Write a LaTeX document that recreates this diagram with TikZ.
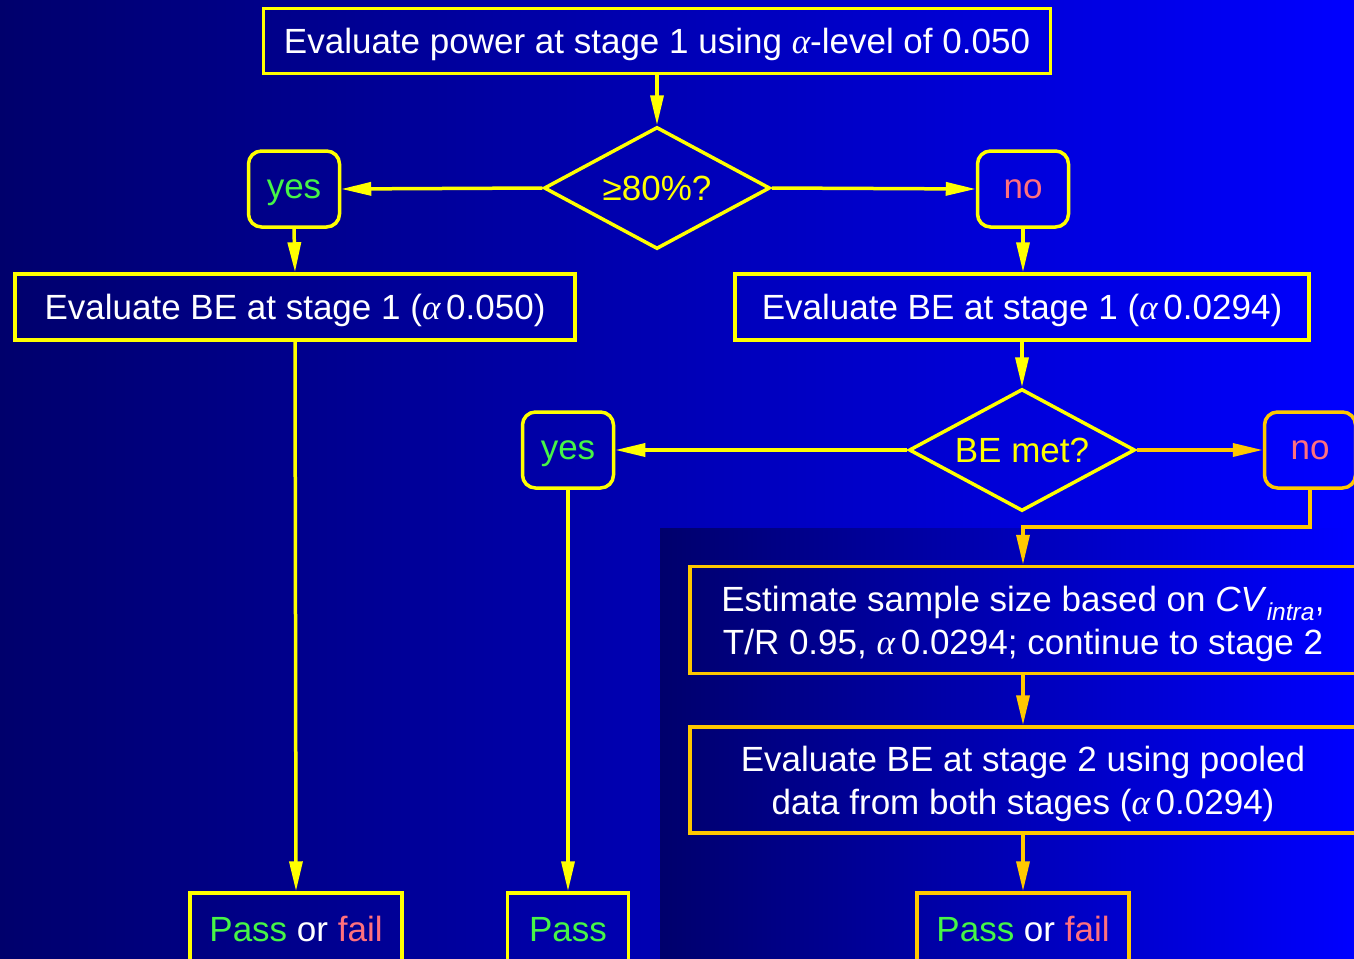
\documentclass[tikz,border=0pt]{standalone}
\usepackage{fontspec}
\setmainfont{Liberation Sans}
\newfontfamily\greekserif{Liberation Serif}
\usetikzlibrary{shapes.geometric,arrows.meta}

\definecolor{bgdark}{RGB}{0,0,108}
\definecolor{bgbright}{RGB}{0,0,255}
\definecolor{flowyellow}{RGB}{255,255,0}
\definecolor{flowgold}{RGB}{255,200,0}
\definecolor{passgreen}{RGB}{70,245,70}
\definecolor{failpink}{RGB}{255,112,125}

\newcommand{\alsym}{{\greekserif\itshape α}}
\newcommand{\al}{\alsym\,}

\begin{document}
\begin{tikzpicture}[
        x=1pt, y=-1pt,
        >={Triangle[length=30pt,width=13pt]},
        font=\fontsize{35}{43}\selectfont,
        box/.style={draw=flowyellow, line width=3.5pt, text=white, inner sep=0pt,
            align=center, text depth=0pt},
        goldbox/.style={box, draw=flowgold},
        answer/.style={box, rounded corners=13pt, minimum width=91pt, minimum height=76pt},
        decision/.style={diamond, draw=flowyellow, line width=3.5pt, text=flowyellow,
            inner sep=0pt, aspect=1.85, minimum width=226pt, minimum height=122pt,
            text depth=0pt},
        arr/.style={->, flowyellow, line width=3.5pt},
        goldarr/.style={arr, flowgold}
    ]
    % background
    \clip (0,0) rectangle (1354,958);
    \shade[left color=bgdark, right color=bgbright] (0,0) rectangle (1354,958);
    \shade[left color=bgdark, right color=bgbright] (660,528) rectangle (1354,958);

    % stage 1
    \node[box, minimum width=787pt, minimum height=65pt] (power) at (657,41)
        {Evaluate power at stage 1 using \alsym-level of 0.050};
    \node[decision] (powerok) at (657,188) {≥80\%?};
    \node[answer] (yesA) at (294,189) {\textcolor{passgreen}{yes}};
    \node[answer] (noA) at (1023,189) {\textcolor{failpink}{no}};
    \node[box, minimum width=560pt, minimum height=66pt] (beA) at (295,307)
        {Evaluate BE at stage 1 (\al 0.050)};
    \node[box, minimum width=574pt, minimum height=66pt] (beB) at (1022,307)
        {Evaluate BE at stage 1 (\al 0.0294)};
    \node[decision] (bemet) at (1022,450) {BE met?};
    \node[answer] (yesB) at (568,450) {\textcolor{passgreen}{yes}};
    \node[answer, draw=flowgold] (noB) at (1310,450) {\textcolor{failpink}{no}};

    % stage 2
    \node[goldbox, minimum width=666pt, minimum height=107pt] (estimate) at (1023,620)
        {Estimate sample size based on \textit{CV}\textsubscript{\textit{intra}},\\
         T/R 0.95, \al 0.0294; continue to stage 2};
    \node[goldbox, minimum width=666pt, minimum height=106pt] (pooled) at (1023,780)
        {Evaluate BE at stage 2 using pooled\\
         data from both stages (\al 0.0294)};

    % outcomes
    \node[box, minimum width=212pt, minimum height=72pt] (resA) at (296,929)
        {\textcolor{passgreen}{Pass} or \textcolor{failpink}{fail}};
    \node[box, minimum width=121pt, minimum height=72pt] (resB) at (568,929)
        {\textcolor{passgreen}{Pass}};
    \node[goldbox, minimum width=212pt, minimum height=72pt] (resC) at (1023,929)
        {\textcolor{passgreen}{Pass} or \textcolor{failpink}{fail}};

    % connectors
    \draw[arr] (power.south) -- (powerok.north);
    \draw[arr] (powerok.west) -- (yesA.east);
    \draw[arr] (powerok.east) -- (noA.west);
    \draw[arr] (yesA.south) -- (beA.north);
    \draw[arr] (noA.south) -- (beB.north -| noA.south);
    \draw[arr] (beB.south) -- (bemet.north);
    \draw[arr] (bemet.west) -- (yesB.east);
    \draw[goldarr] (bemet.east) -- (noB.west);
    \coordinate (turn) at (1023,527);
    \draw[goldarr] (noB.south) |- (turn) -- (estimate.north);
    \draw[goldarr] (estimate.south) -- (pooled.north);
    \draw[goldarr] (pooled.south) -- (resC.north);
    \draw[arr] (beA.south) -- (resA.north);
    \draw[arr] (yesB.south) -- (resB.north);
\end{tikzpicture}
\end{document}
